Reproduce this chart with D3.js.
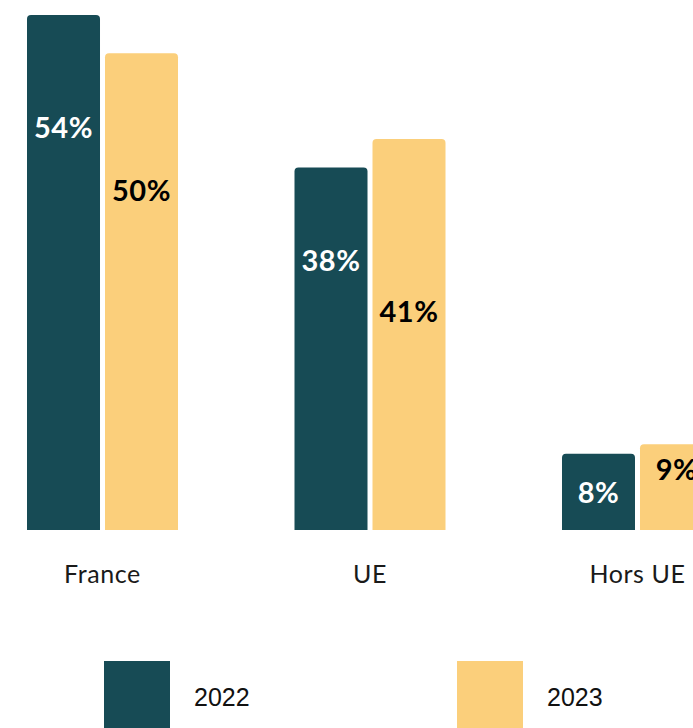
<!DOCTYPE html>
<html><head><meta charset="utf-8">
<script src="https://cdn.jsdelivr.net/npm/d3@7/dist/d3.min.js"></script>
<style>html,body{margin:0;padding:0;background:#fff;overflow:hidden}</style>
</head><body>
<svg id="chart" width="693" height="728"></svg>
<script>
const categories = ["France", "UE", "Hors UE"];
const years = ["2022", "2023"];
const values2022 = [54, 38, 8];
const values2023 = [50, 41, 9];
// level (in % units) at which each value label is centred
const labelLevel2022 = [42.2, 28.3, 3.9];
const labelLevel2023 = [35.6, 22.9, 6.3];

const colors = {"2022": "#174b55", "2023": "#fbcf7b"};
const labelColors = {"2022": "#ffffff", "2023": "#000000"};

const svg = d3.select("#chart");
const x0 = d3.scaleBand().domain(categories).range([27, 713]).paddingInner(0.4355).paddingOuter(0);
const x1 = d3.scaleBand().domain(years).range([0, x0.bandwidth()]).paddingInner(0.064).paddingOuter(0);
const y = d3.scaleLinear().domain([0, 54]).range([530, 15]);

const rows = [];
categories.forEach((c, i) => {
  rows.push({cat: c, year: "2022", v: values2022[i], lv: labelLevel2022[i]});
  rows.push({cat: c, year: "2023", v: values2023[i], lv: labelLevel2023[i]});
});

function topRounded(x, yTop, w, h, r) {
  return `M${x},${yTop + h}V${yTop + r}Q${x},${yTop} ${x + r},${yTop}H${x + w - r}Q${x + w},${yTop} ${x + w},${yTop + r}V${yTop + h}Z`;
}

svg.append("g").selectAll("path").data(rows).join("path")
  .attr("d", d => topRounded(x0(d.cat) + x1(d.year), y(d.v), x1.bandwidth(), y(0) - y(d.v), 4))
  .attr("fill", d => colors[d.year]);

svg.append("g").selectAll("text").data(rows).join("text")
  .attr("x", d => x0(d.cat) + x1(d.year) + x1.bandwidth() / 2)
  .attr("y", d => y(d.lv))
  .attr("dy", "0.36em")
  .attr("text-anchor", "middle")
  .attr("font-family", "Lato, sans-serif")
  .attr("font-weight", 700)
  .attr("font-size", 29)
  .attr("letter-spacing", 0.5)
  .attr("fill", d => labelColors[d.year])
  .text(d => d.v + "%");

// category axis labels
svg.append("g").selectAll("text").data(categories).join("text")
  .attr("x", d => x0(d) + x0.bandwidth() / 2)
  .attr("y", 583)
  .attr("text-anchor", "middle")
  .attr("font-family", "Lato, sans-serif")
  .attr("font-size", 25)
  .attr("letter-spacing", 0.6)
  .attr("fill", "#1a1a1a")
  .text(d => d);

// legend
const legendX = d3.scaleOrdinal().domain(years).range([104, 457]);
const lg = svg.append("g").selectAll("g").data(years).join("g")
  .attr("transform", d => `translate(${legendX(d)},661)`);
lg.append("rect").attr("width", 66).attr("height", 80).attr("fill", d => colors[d]);
lg.append("text").attr("x", 90).attr("y", 45)
  .attr("font-family", "'Liberation Sans', Arial, sans-serif")
  .attr("font-size", 25).attr("fill", "#111")
  .text(d => d);
</script>
</body></html>
